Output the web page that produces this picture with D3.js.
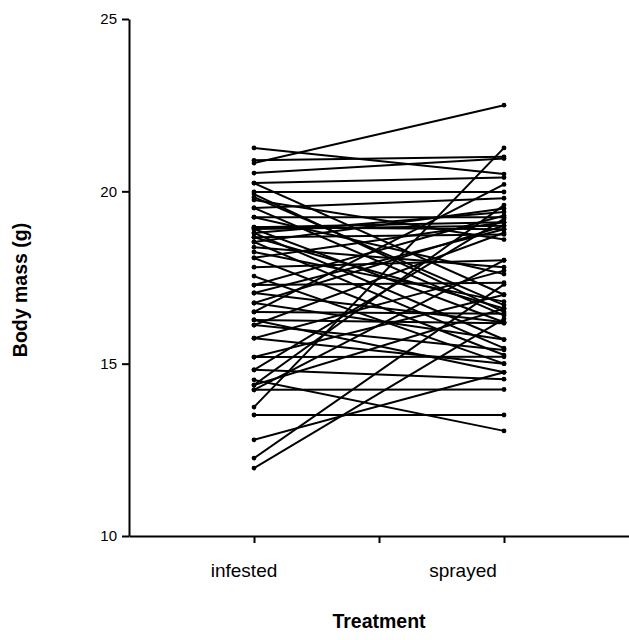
<!DOCTYPE html>
<html lang="en">
<head>
  <meta charset="UTF-8">
  <title>Body mass by treatment</title>
  <script src="https://d3js.org/d3.v7.min.js"></script>
  <style>
    body { margin: 0; background: #fff; font-family: "Liberation Sans", Arial, sans-serif; }
    svg { display: block; }
    .axis path, .axis line { stroke: #000; stroke-width: 2; }
    .pair { fill: none; stroke: #000; stroke-width: 2; }
  </style>
</head>
<body>
  <script>
    // one entry per animal: mass while infested, mass after spraying (g)
    const infested = [
      21.26, 20.82, 20.53, 20.24, 20.24, 19.98, 19.92, 19.83, 19.75, 19.52,
      19.52, 19.25, 19.25, 18.96, 18.96, 18.91, 18.91, 18.79, 18.79, 18.67,
      18.67, 18.53, 18.53, 18.38, 18.24, 18.07, 18.07, 17.80, 17.54, 17.28,
      17.28, 17.05, 16.76, 16.76, 16.50, 16.50, 16.27, 16.12, 16.12, 15.74,
      15.74, 15.19, 15.19, 14.82, 14.82, 14.53, 14.38, 14.38, 14.24, 13.74,
      13.51, 12.79, 12.26, 11.97, 14.24, 17.05, 20.90, 16.27
    ];
    const sprayed = [
      20.50, 22.50, 20.95, 20.40, 17.00, 19.98, 16.50, 16.70, 18.60, 19.80,
      16.40, 19.25, 17.60, 19.10, 18.90, 19.00, 16.20, 19.40, 15.70, 18.75,
      16.60, 19.50, 15.45, 17.80, 16.80, 19.10, 15.25, 18.00, 15.00, 19.30,
      17.35, 16.20, 19.00, 15.70, 20.20, 16.45, 14.75, 18.80, 15.40, 17.70,
      15.00, 17.00, 15.20, 14.55, 19.20, 13.05, 16.60, 19.60, 18.00, 21.26,
      13.51, 14.75, 17.30, 16.30, 14.25, 18.90, 21.00, 16.17
    ];
    const treatments = ["infested", "sprayed"];
    const treatmentPos = [1, 3];
    const massTicks = [10, 15, 20, 25];

    const width = 629, height = 640;

    const svg = d3.select("body").append("svg")
      .attr("width", width)
      .attr("height", height);

    const x = d3.scaleLinear().domain([0, 4]).range([129, 629]);
    const y = d3.scaleLinear().domain([10, 25]).range([536, 19]);

    const pairs = infested.map((v, i) => [v, sprayed[i]]);

    // paired lines
    svg.selectAll(".pair")
      .data(pairs)
      .join("path")
      .attr("class", "pair")
      .attr("d", d => d3.line()
        .x((v, j) => x(treatmentPos[j]))
        .y(v => y(v))(d));

    // end points
    const pts = pairs.flatMap(d => d.map((v, j) => ({ v, j })));
    svg.selectAll(".pt")
      .data(pts)
      .join("circle")
      .attr("class", "pt")
      .attr("cx", d => x(treatmentPos[d.j]))
      .attr("cy", d => y(d.v))
      .attr("r", 2.4)
      .attr("fill", "#000");

    // y axis
    const yAxis = svg.append("g")
      .attr("class", "axis")
      .attr("transform", `translate(${x(0)},0)`)
      .call(d3.axisLeft(y).tickValues(massTicks).tickSize(7).tickSizeOuter(0).tickPadding(5));
    yAxis.selectAll("text")
      .attr("font-family", "Liberation Sans, Arial, sans-serif")
      .attr("font-size", 15)
      .attr("fill", "#000");

    // x axis
    svg.append("g")
      .attr("class", "axis")
      .attr("transform", `translate(0,${y(10)})`)
      .call(d3.axisBottom(x).tickValues([1, 2, 3]).tickSize(7).tickSizeOuter(0).tickFormat(""));

    // category labels sit a little left of their ticks in the original
    const labelShift = [-10, -41];
    svg.selectAll(".cat")
      .data(treatments)
      .join("text")
      .attr("class", "cat")
      .attr("x", (d, i) => x(treatmentPos[i]) + labelShift[i])
      .attr("y", y(10) + 41)
      .attr("text-anchor", "middle")
      .attr("font-size", 19)
      .text(d => d);

    svg.append("text")
      .attr("x", x(2))
      .attr("y", 628)
      .attr("text-anchor", "middle")
      .attr("font-size", 19.5)
      .attr("font-weight", "bold")
      .text("Treatment");

    svg.append("text")
      .attr("transform", "translate(27,290) rotate(-90)")
      .attr("text-anchor", "middle")
      .attr("font-size", 19.5)
      .attr("font-weight", "bold")
      .text("Body mass (g)");
  </script>
</body>
</html>
